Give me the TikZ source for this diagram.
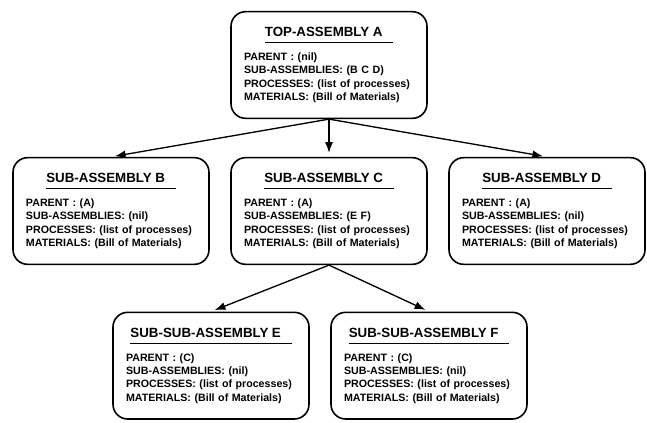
\documentclass[tikz,border=0pt]{standalone}
\usepackage{fontspec}
\setmainfont{Liberation Sans}
\usetikzlibrary{arrows.meta}

\newcommand{\bodyfont}{\fontsize{8}{10}\selectfont\bfseries}
\newcommand{\titlefont}{\fontsize{10}{12}\selectfont\bfseries}
% underlined title line of a box
\newcommand{\asmtitle}[1]{{\centering\titlefont\setbox0\hbox{#1}%
  \hbox{\vbox{\copy0\kern4pt\hrule height 1pt width \dimexpr\wd0+8pt\relax}}\par}\vspace{3pt}}

\tikzset{asmbox/.style={draw,line width=1.2pt,rounded corners=11pt,minimum width=147pt,
  minimum height=80pt,text width=127.5pt,inner xsep=9.75pt,align=left,font=\bodyfont}}

\begin{document}
\begin{tikzpicture}[every node/.style={asmbox},level distance=109.5pt,sibling distance=163.5pt,
  level 2/.style={level distance=116pt,nodes={xshift=-6.75pt}},
  parent anchor=south,child anchor=north,
  edge from parent/.style={draw,line width=1pt,-{Latex[length=8pt,width=6pt]},shorten >=3pt}]

    \useasboundingbox (0,0) rectangle (485.25pt,-316.5pt);

    \node (A) at (246.75pt,-48.75pt) {\asmtitle{TOP-ASSEMBLY A}
        PARENT : (nil)\\ SUB-ASSEMBLIES: (B C D)\\
        PROCESSES: (list of processes)\\ MATERIALS: (Bill of Materials)}
        child { node (B) {\asmtitle{SUB-ASSEMBLY B}
            PARENT : (A)\\ SUB-ASSEMBLIES: (nil)\\
            PROCESSES: (list of processes)\\ MATERIALS: (Bill of Materials)}
        }
        child { node (C) {\asmtitle{SUB-ASSEMBLY C}
            PARENT : (A)\\ SUB-ASSEMBLIES: (E F)\\
            PROCESSES: (list of processes)\\ MATERIALS: (Bill of Materials)}
            child { node (E) {\asmtitle{SUB-SUB-ASSEMBLY E}
                PARENT : (C)\\ SUB-ASSEMBLIES: (nil)\\
                PROCESSES: (list of processes)\\ MATERIALS: (Bill of Materials)}
            }
            child { node (F) {\asmtitle{SUB-SUB-ASSEMBLY F}
                PARENT : (C)\\ SUB-ASSEMBLIES: (nil)\\
                PROCESSES: (list of processes)\\ MATERIALS: (Bill of Materials)}
            }
        }
        child { node (D) {\asmtitle{SUB-ASSEMBLY D}
            PARENT : (A)\\ SUB-ASSEMBLIES: (nil)\\
            PROCESSES: (list of processes)\\ MATERIALS: (Bill of Materials)}
        };
\end{tikzpicture}
\end{document}
